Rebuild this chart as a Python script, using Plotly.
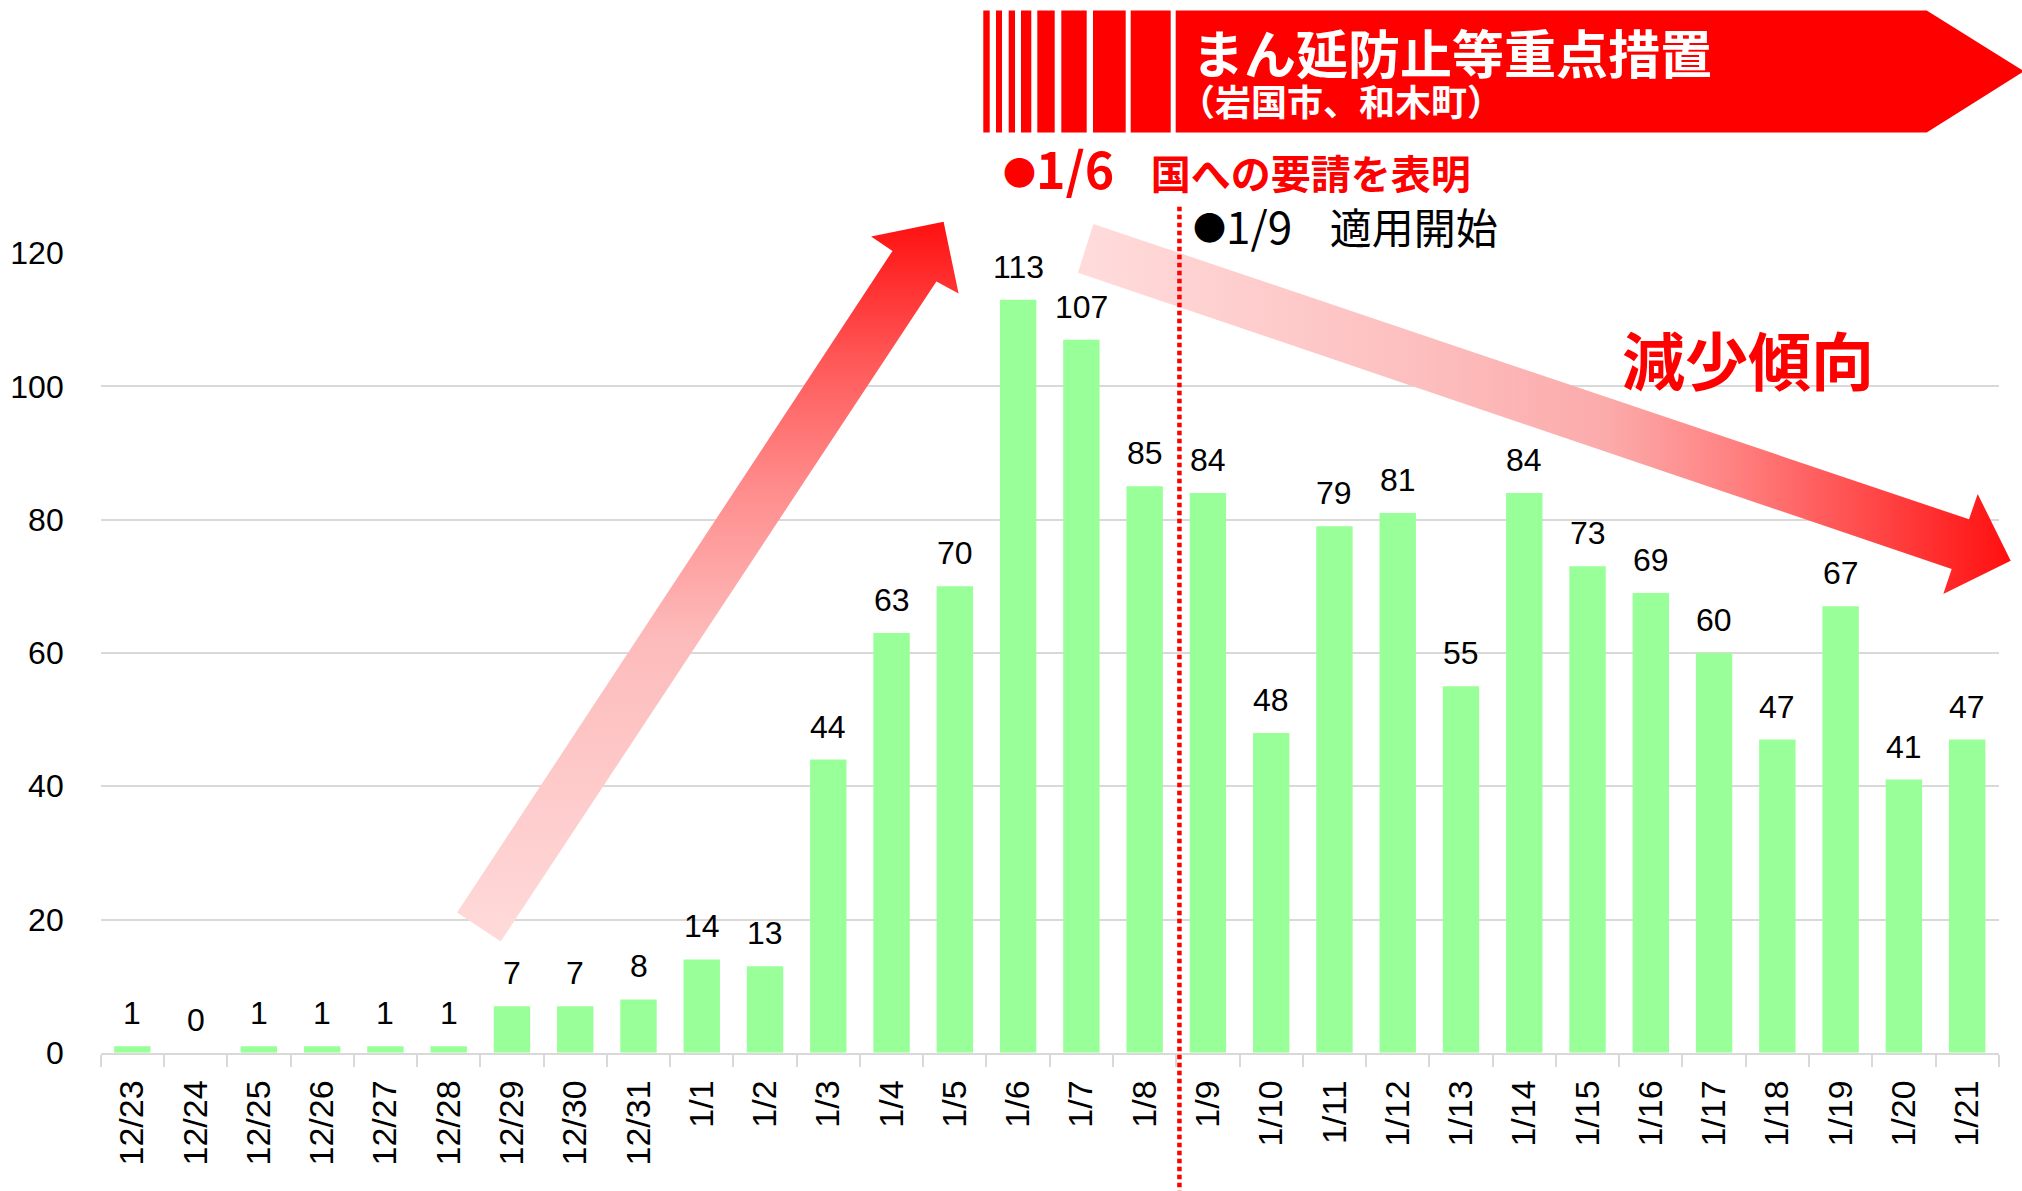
import plotly.graph_objects as go

# ---------------- data ----------------
categories = ["12/23", "12/24", "12/25", "12/26", "12/27", "12/28", "12/29", "12/30", "12/31",
              "1/1", "1/2", "1/3", "1/4", "1/5", "1/6", "1/7", "1/8", "1/9", "1/10",
              "1/11", "1/12", "1/13", "1/14", "1/15", "1/16", "1/17", "1/18", "1/19",
              "1/20", "1/21"]
values = [1, 0, 1, 1, 1, 1, 7, 7, 8, 14, 13, 44, 63, 70, 113, 107, 85, 84, 48,
          79, 81, 55, 84, 73, 69, 60, 47, 67, 41, 47]
y_ticks = [0, 20, 40, 60, 80, 100, 120]

banner_title = "まん延防止等重点措置"
banner_sub = "（岩国市、和木町）"
note_request_date = "1/6"
note_request_text = "国への要請を表明"
note_start_date = "1/9"
note_start_text = "適用開始"
trend_label = "減少傾向"
measure_start_boundary = 16.55   # between 1/8 and 1/9

# ---------------- geometry (figure pixels) ----------------
W, H = 2022, 1191
PL, PR, PT, PB = 100.7, 1998.8, 253.0, 1052.8   # plot area

def fx(p):
    return p / W

def fy(p):
    return 1 - p / H

LAT = "Liberation Sans, Arial, sans-serif"
JP = "Noto Sans CJK JP, sans-serif"

fig = go.Figure()

fig.add_trace(go.Bar(
    x=categories, y=values, marker_color="#99FF99", marker_line_width=0,
    xaxis="x", yaxis="y", hoverinfo="skip", showlegend=False,
))

# overlay axes covering the whole figure in pixel units (for decorations)
up_arrow_x = [457.1, 892.5, 871.1, 943.6, 958.6, 936.4, 500.7, 457.1]
up_arrow_y = [912.6, 250.9, 236.4, 221.8, 293.6, 281.4, 941.6, 912.6]
fig.add_trace(go.Scatter(
    x=up_arrow_x, y=up_arrow_y, xaxis="x2", yaxis="y2", mode="lines",
    line=dict(width=0, color="rgba(0,0,0,0)"), fill="toself",
    fillgradient=dict(type="vertical", start=941.6, stop=221.8,
                      colorscale=[[0, "#FFDADA"], [0.42, "#FDBBBB"], [0.63, "#FF8C8C"],
                                  [0.8, "#FF5A5A"], [1, "#FF1010"]]),
    hoverinfo="skip", showlegend=False,
))

down_arrow_x = [1093.4, 1969.0, 1977.7, 2010.7, 1943.3, 1951.7, 1077.9, 1093.4]
down_arrow_y = [224.0, 519.3, 494.0, 560.7, 594.0, 569.0, 272.7, 224.0]
fig.add_trace(go.Scatter(
    x=down_arrow_x, y=down_arrow_y, xaxis="x2", yaxis="y2", mode="lines",
    line=dict(width=0, color="rgba(0,0,0,0)"), fill="toself",
    fillgradient=dict(type="horizontal", start=1077.9, stop=2010.7,
                      colorscale=[[0, "#FFDCDC"], [0.37, "#FDBEBE"], [0.57, "#FCAAAA"],
                                  [0.70, "#FF8282"], [0.83, "#FF5050"], [1, "#FF0F0F"]]),
    hoverinfo="skip", showlegend=False,
))

shapes = []
# banner body with arrow tip
shapes.append(dict(
    type="path", xref="x2", yref="y2", layer="above",
    path="M 1175.7 10.5 L 1926.7 10.5 L 2024 71.3 L 1926.7 132.5 L 1175.7 132.5 Z",
    fillcolor="#FF0000", line=dict(width=0),
))
stripes = [(983.3, 989.7), (996.0, 1002.0), (1008.7, 1015.0), (1021.0, 1031.3),
           (1037.3, 1054.7), (1061.3, 1086.7), (1093.0, 1125.7), (1130.7, 1170.7)]
for a, b in stripes:
    shapes.append(dict(type="rect", xref="x2", yref="y2", x0=a, x1=b, y0=10.5, y1=132.5,
                       fillcolor="#FF0000", line=dict(width=0), layer="above"))
# dotted vertical line at start of measures
shapes.append(dict(type="line", xref="x", yref="y2", x0=measure_start_boundary,
                   x1=measure_start_boundary, y0=206.7, y1=1191,
                   line=dict(color="#FF0000", width=4.5, dash="4.5px,3.5px"), layer="above"))

annotations = []
for c, v in zip(categories, values):
    annotations.append(dict(x=c, y=v, xref="x", yref="y", text=str(v), showarrow=False,
                            yanchor="bottom", yshift=13,
                            font=dict(family=LAT, size=32, color="#000000")))

dot = '<span style="font-size:33px;baseline-shift:4px">●</span>'

def big(s, size):
    return '<span style="font-size:%dpx">%s</span>' % (size, s)

annotations += [
    dict(x=fx(1190), y=fy(52), xref="paper", yref="paper", text="<b>" + banner_title + "</b>",
         showarrow=False, xanchor="left", yanchor="middle",
         font=dict(family=JP, size=52, color="#FFFFFF")),
    dict(x=fx(1177), y=fy(100), xref="paper", yref="paper", text="<b>" + banner_sub + "</b>",
         showarrow=False, xanchor="left", yanchor="middle",
         font=dict(family=JP, size=36, color="#FFFFFF")),
    dict(x=fx(1001), y=fy(167), xref="paper", yref="paper",
         text="<b>" + dot + big(note_request_date, 50) + "    " + note_request_text + "</b>",
         showarrow=False, xanchor="left", yanchor="middle",
         font=dict(family=JP, size=40, color="#FF0000")),
    dict(x=fx(1191), y=fy(225), xref="paper", yref="paper",
         text=dot + big(note_start_date, 44) + "    " + note_start_text,
         showarrow=False, xanchor="left", yanchor="middle",
         font=dict(family=JP, size=42, color="#000000")),
    dict(x=fx(1620), y=fy(357), xref="paper", yref="paper", text="<b>" + trend_label + "</b>",
         showarrow=False, xanchor="left", yanchor="middle",
         font=dict(family=JP, size=63, color="#FF0000")),
]

fig.update_layout(
    width=W, height=H,
    margin=dict(l=0, r=0, t=0, b=0, pad=0, autoexpand=False),
    paper_bgcolor="#FFFFFF", plot_bgcolor="rgba(0,0,0,0)",
    bargap=0.425,
    showlegend=False,
    shapes=shapes,
    annotations=annotations,
    xaxis=dict(
        domain=[fx(PL), fx(PR)], anchor="y", type="category",
        categoryorder="array", categoryarray=categories,
        range=[-0.5, len(categories) - 0.5],
        showgrid=False, zeroline=False, automargin=False,
        showline=True, linecolor="#D9D9D9", linewidth=2,
        ticks="outside", tickson="boundaries", ticklen=12, tickwidth=2, tickcolor="#D9D9D9",
        tickangle=-90, tickfont=dict(family=LAT, size=34, color="#000000"),
        ticklabelstandoff=12, fixedrange=True,
    ),
    yaxis=dict(
        domain=[fy(PB), fy(PT)], anchor="x", automargin=False,
        range=[0, 120], tickvals=y_ticks,
        showgrid=True, gridcolor="#D9D9D9", gridwidth=2,
        zeroline=False, showline=False, ticks="",
        tickfont=dict(family=LAT, size=32, color="#000000"),
        ticklabelstandoff=36, fixedrange=True,
    ),
    xaxis2=dict(domain=[0, 1], anchor="y2", range=[0, W], visible=False,
                automargin=False, fixedrange=True),
    yaxis2=dict(domain=[0, 1], anchor="x2", range=[H, 0], visible=False,
                automargin=False, fixedrange=True),
)

fig.write_html("out.html", config={"displayModeBar": False},
               post_script="document.body.style.margin='0px';document.body.style.overflow='hidden';")
